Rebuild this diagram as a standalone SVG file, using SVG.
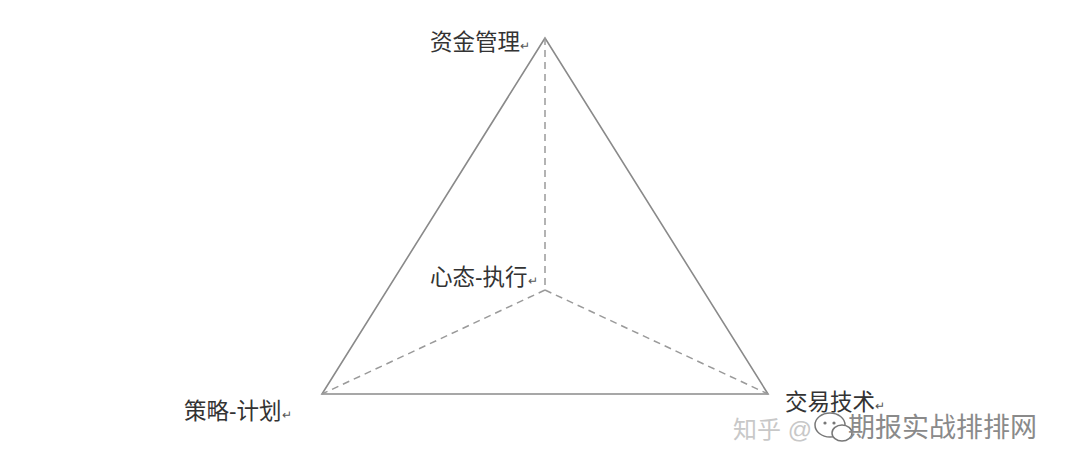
<svg xmlns="http://www.w3.org/2000/svg" width="1080" height="466" viewBox="0 0 1080 466">
<style>
.lbl{font-family:"Liberation Sans","Noto Sans CJK SC",sans-serif;font-size:22.5px;fill:#333}
.ret{font-size:12px;fill:#555}
.solid{stroke:#8a8a8a;stroke-width:1.6;fill:none}
.dash{stroke:#9a9a9a;stroke-width:1.5;fill:none;stroke-dasharray:7 5}
.wm{font-family:"Liberation Sans","Noto Sans CJK SC",sans-serif}
</style>
<rect width="1080" height="466" fill="#ffffff"/>
<g id="connectors">
<polygon class="solid" points="545,38 322,394 768,394"/>
<line class="dash" x1="545" y1="38" x2="545" y2="290"/>
<line class="dash" x1="545" y1="290" x2="322" y2="394"/>
<line class="dash" x1="545" y1="290" x2="768" y2="394"/>
</g>
<g id="node-top"><text class="lbl" x="430" y="50">资金管理<tspan class="ret">↵</tspan></text></g>
<g id="node-center"><text class="lbl" x="430" y="285">心态-执行<tspan class="ret">↵</tspan></text></g>
<g id="node-left"><text class="lbl" x="184" y="419">策略-计划<tspan class="ret">↵</tspan></text></g>
<g id="node-right"><text class="lbl" x="785" y="410">交易技术<tspan class="ret">↵</tspan></text></g>
<g id="watermark">
<text class="wm" x="733" y="438" font-size="24" fill="#c8c8c8">知乎 @</text>
<ellipse cx="830" cy="425" rx="15" ry="12" fill="#ffffff" stroke="#777" stroke-width="1.5"/>
<ellipse cx="842" cy="433" rx="10" ry="8" fill="#ffffff" stroke="#777" stroke-width="1.5"/>
<circle cx="825" cy="423" r="1.6" fill="#777"/>
<circle cx="834" cy="423" r="1.6" fill="#777"/>
<text class="wm" x="848" y="437" font-size="27" fill="#8a8a8a">期报实战排排网</text>
</g>
</svg>
